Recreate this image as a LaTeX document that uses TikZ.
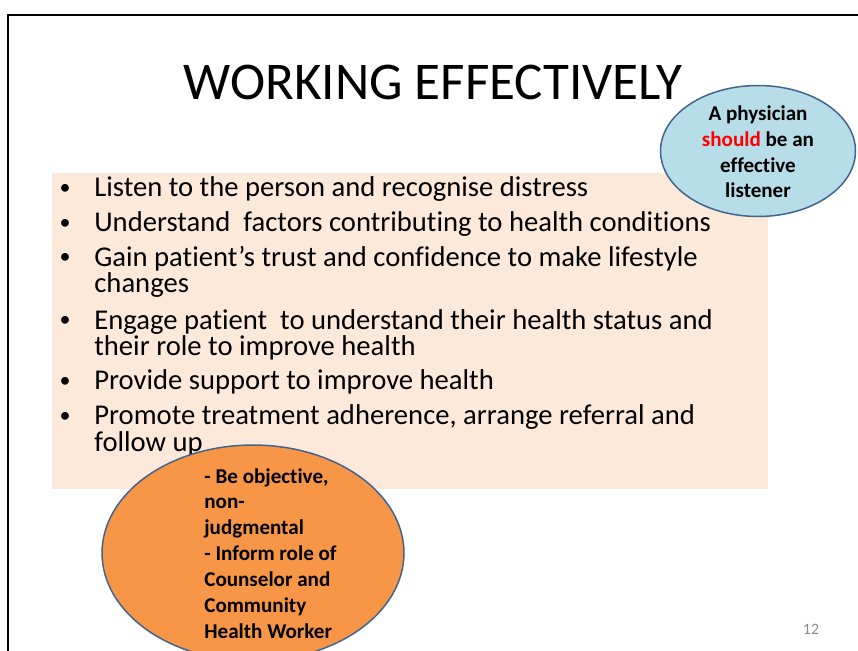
\documentclass[tikz,border=0pt]{standalone}
\usepackage{fontspec}
\setmainfont{Carlito}[Ligatures={NoCommon}]
\usetikzlibrary{shapes.geometric}

\definecolor{peach}{HTML}{FDE9D9}
\definecolor{skyfill}{HTML}{B7DEE8}
\definecolor{orangefill}{HTML}{F79646}
\definecolor{bubbleline}{HTML}{41648F}
\definecolor{numgray}{HTML}{8C8C8C}

\tikzset{
  pt/.style={anchor=base west, align=left, inner sep=0pt, font=\fontsize{16.3}{15.3}\selectfont},
  dot/.style={anchor=base, inner sep=0pt, font=\fontsize{12.5}{13}\selectfont},
  bubble/.style={ellipse, draw=bubbleline, line width=0.85pt, inner sep=0pt},
  note/.style={inner sep=0pt, font=\bfseries\fontsize{12}{14.7}\selectfont}
}

\begin{document}
\begin{tikzpicture}[x=0.02cm, y=-0.02cm]
  \useasboundingbox (0,0) rectangle (858,651);
  % frame
  \draw[line width=0.75pt] (8,651) -- (8,15) -- (858,15);
  % title
  \node[anchor=base, inner sep=0pt, font=\fontsize{30.2}{31}\selectfont] (title) at (433,100) {WORKING EFFECTIVELY};
  % text box (anchors sit on the last line of each item)
  \fill[peach] (52,173) rectangle (768,489);
  \foreach \y [count=\i] in {195,230,264,327,388,422}
    \node[dot] (b\i) at (65,\y) {\textbullet};
  \node[pt] (l1) at (94,197) {Listen to the person and recognise distress};
  \node[pt] (l2) at (94,232) {Understand\ \ factors contributing to health conditions};
  \node[pt] (l3) at (94,293) {Gain patient’s trust and confidence to make lifestyle\\changes};
  \node[pt] (l4) at (94,356) {Engage patient\ \ to understand their health status and\\their role to improve health};
  \node[pt] (l5) at (94,390) {Provide support to improve health};
  \node[pt] (l6) at (94,451) {Promote treatment adherence, arrange referral and\\follow up};
  % bubbles
  \node[bubble, fill=skyfill, minimum width=3.9cm, minimum height=2.62cm] (sky) at (758,151) {};
  \node[note, anchor=base, align=center] (skytext) at (758,198)
    {A physician\\\textcolor{red}{should} be an\\effective\\listener};
  \node[bubble, fill=orangefill, minimum width=6.04cm, minimum height=4.32cm] (org) at (253,553) {};
  \node[note, anchor=base west, align=left] (orgtext) at (204,638)
    {- Be objective,\\non-\\judgmental\\- Inform role of\\Counselor and\\Community\\Health Worker};
  % page number
  \node[anchor=base, inner sep=0pt, text=numgray, font=\fontsize{9}{10}\selectfont] (num) at (811,634) {12};
\end{tikzpicture}
\end{document}
